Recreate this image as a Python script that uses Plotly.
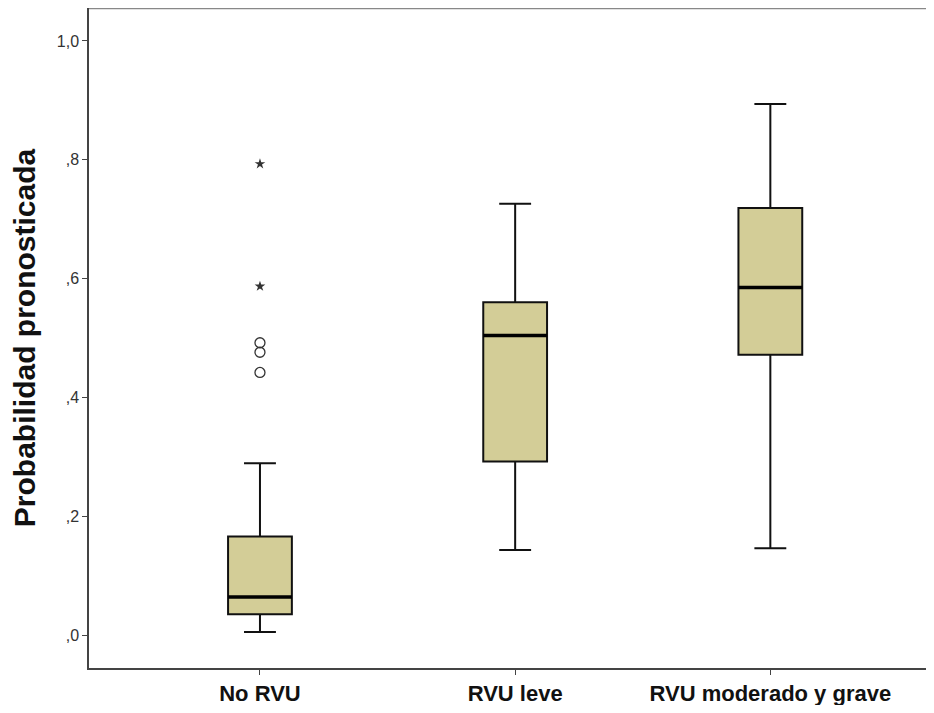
import plotly.graph_objects as go

categories = ["No RVU", "RVU leve", "RVU moderado y grave"]
lower_whisker = [0.005, 0.143, 0.146]
q1_values = [0.035, 0.292, 0.472]
median_values = [0.064, 0.504, 0.585]
q3_values = [0.166, 0.560, 0.719]
upper_whisker = [0.289, 0.726, 0.894]

# outliers (No RVU)
mild_outliers = [0.492, 0.476, 0.442]
extreme_outliers = [0.793, 0.587]

y_tick_vals = [0.0, 0.2, 0.4, 0.6, 0.8, 1.0]
y_tick_text = [",0", ",2", ",4", ",6", ",8", "1,0"]

FONT = "Liberation Sans, Arial, sans-serif"

fig = go.Figure()
fig.add_trace(go.Box(
    x=categories,
    lowerfence=lower_whisker,
    q1=q1_values,
    median=median_values,
    q3=q3_values,
    upperfence=upper_whisker,
    fillcolor="#D3CD97",
    line=dict(color="#111111", width=2),
    whiskerwidth=0.5,
    width=0.25,
    boxpoints=False,
    hoverinfo="skip",
    showlegend=False,
))
# thicker median line overlay
fig.add_trace(go.Box(
    x=categories,
    lowerfence=median_values,
    q1=median_values,
    median=median_values,
    q3=median_values,
    upperfence=median_values,
    fillcolor="rgba(0,0,0,0)",
    line=dict(color="#000000", width=3.5),
    whiskerwidth=0,
    width=0.25,
    boxpoints=False,
    hoverinfo="skip",
    showlegend=False,
))
fig.add_trace(go.Scatter(
    x=[categories[0]] * len(mild_outliers),
    y=mild_outliers,
    mode="markers",
    marker=dict(symbol="circle-open", size=10, color="#333333", line=dict(width=1.3)),
    showlegend=False,
))
fig.add_trace(go.Scatter(
    x=[categories[0]] * len(extreme_outliers),
    y=extreme_outliers,
    mode="markers",
    marker=dict(symbol="star", size=8, color="#333333"),
    showlegend=False,
))

fig.update_layout(
    width=918, height=697,
    margin=dict(l=81, r=0, t=0, b=37),
    paper_bgcolor="white",
    plot_bgcolor="white",
    boxmode="overlay",
    font=dict(family=FONT, color="#222222"),
    xaxis=dict(
        range=[-0.67, 2.61],
        showline=True, linecolor="#444444", linewidth=1.5,
        ticks="outside", ticklen=5, tickcolor="#444444",
        tickfont=dict(size=22, color="#111111", family=FONT, weight="bold"),
        showgrid=False, zeroline=False,
    ),
    yaxis=dict(
        range=[-0.0555, 1.0555],
        showline=True, linecolor="#444444", linewidth=1.5,
        ticks="outside", ticklen=5, tickcolor="#444444",
        tickvals=y_tick_vals, ticktext=y_tick_text,
        tickfont=dict(size=16, color="#333333"),
        showgrid=False, zeroline=False,
        title=dict(text="Probabilidad pronosticada",
                   font=dict(size=30, color="#111111", weight="bold"),
                   standoff=14),
    ),
    shapes=[dict(type="line", xref="paper", yref="paper", x0=0, x1=1, y0=1, y1=1,
                 line=dict(color="#888888", width=2.5))],
)

fig.write_html("out.html")
